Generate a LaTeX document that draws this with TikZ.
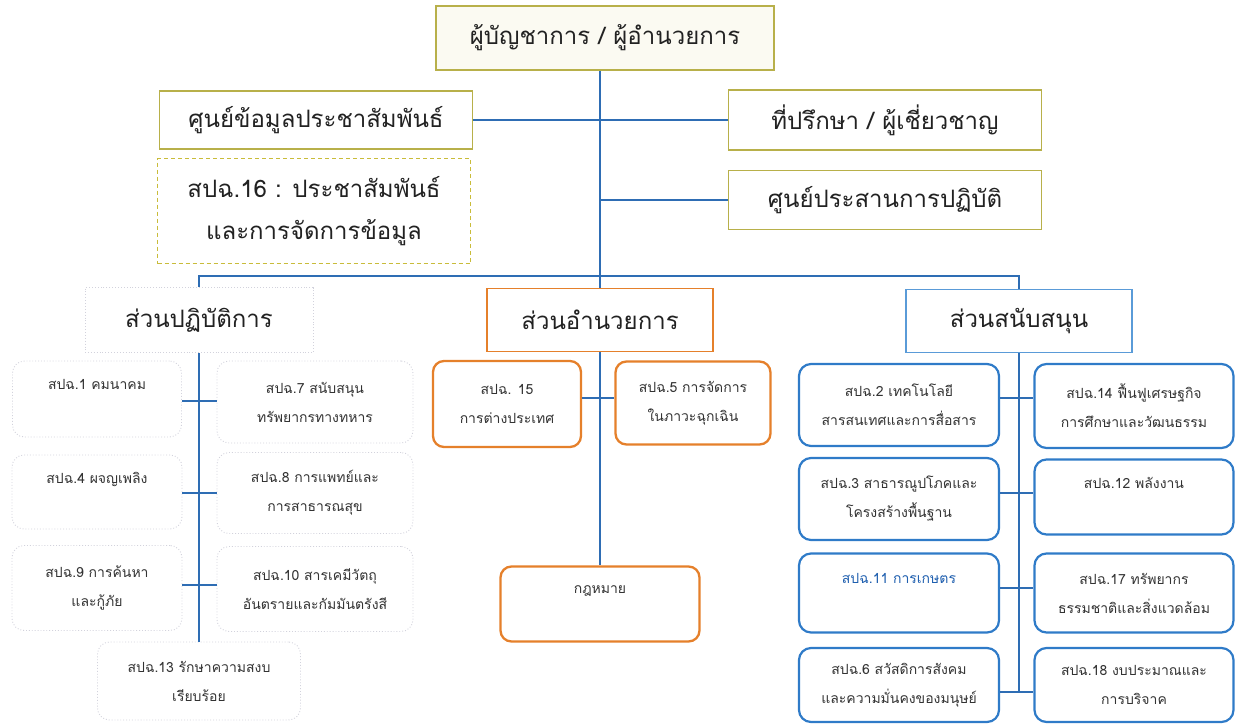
\documentclass[tikz,border=0pt]{standalone}
\usepackage{fontspec}
\newfontfamily\thai[Script=Thai]{Loma}
\definecolor{olivec}{HTML}{B8B04A}
\definecolor{dashc}{HTML}{C9BC3A}
\definecolor{linec}{HTML}{2E6DB4}
\definecolor{orangec}{HTML}{E5802B}
\definecolor{lblue}{HTML}{5A9BD8}
\definecolor{rblue}{HTML}{2F7BC8}
\definecolor{grayc}{HTML}{D2D2DC}
\definecolor{txt}{HTML}{222222}
\definecolor{txtb}{HTML}{333333}
\definecolor{bluetxt}{HTML}{1F5FAF}
\definecolor{topfill}{HTML}{FBFAF2}
\begin{document}
\begin{tikzpicture}[x=1pt,y=-1pt,
  every node/.style={text=txt, inner sep=0pt, align=center},
  bigfont/.style={font=\thai\fontsize{24}{42}\selectfont},
  smallfont/.style={font=\thai\fontsize{14}{29}\selectfont, text=txtb},
  hbox/.style={draw=olivec, line width=1.2pt, fill=white, bigfont},
  dbox/.style={draw=dashc, line width=1.2pt, dash pattern=on 4pt off 3pt, fill=white, bigfont},
  obox/.style={draw=orangec, line width=2.3pt, rounded corners=11pt, fill=white, smallfont},
  bbox/.style={draw=rblue, line width=2.2pt, rounded corners=12pt, fill=white, smallfont},
  gbox/.style={draw=grayc, line width=0.9pt, dotted, rounded corners=12pt, fill=white, smallfont},
  headO/.style={draw=orangec, line width=1.6pt, fill=white, bigfont},
  headB/.style={draw=lblue, line width=1.6pt, fill=white, bigfont},
  headG/.style={draw=grayc, line width=0.9pt, dotted, fill=white, bigfont},
  conn/.style={draw=linec, line width=1.7pt}
]
\useasboundingbox (0,0) rectangle (1237,725);

% top level
\node[hbox, fill=topfill, minimum width=338pt, minimum height=64pt] (top) at (605,38) {ผู้บัญชาการ / ผู้อำนวยการ};
\node[hbox, minimum width=313pt, minimum height=58pt] (pr) at (316,120) {ศูนย์ข้อมูลประชาสัมพันธ์};
\node[dbox, minimum width=313pt, minimum height=105pt] (p16) at (314,211) {สปฉ.16 : ประชาสัมพันธ์\\และการจัดการข้อมูล};
\node[hbox, minimum width=313pt, minimum height=60pt] (adv) at (885,120) {ที่ปรึกษา / ผู้เชี่ยวชาญ};
\node[hbox, minimum width=313pt, minimum height=59pt] (ops) at (885,200) {ศูนย์ประสานการปฏิบัติ};

% second level heads
\node[headG, minimum width=228pt, minimum height=65pt] (op) at (199,320) {ส่วนปฏิบัติการ};
\node[headO, minimum width=226pt, minimum height=63pt] (adm) at (600,320) {ส่วนอำนวยการ};
\node[headB, minimum width=226pt, minimum height=63pt] (sup) at (1019,321) {ส่วนสนับสนุน};

% connectors top
\draw[conn] (adm.north |- top.south) -- (adm.north);
\draw[conn] (pr.east) -- (adv.west);
\draw[conn] (ops.west) -- (ops.west -| adm.north);
\coordinate (bus) at (600,276);
\draw[conn] (op.north) |- (bus) -| (sup.north);

% left column (operations)
\node[gbox, minimum width=169pt, minimum height=76pt] (s1) at (97,399) {สปฉ.1 คมนาคม\\\mbox{}};
\node[gbox, minimum width=196pt, minimum height=82pt] (s7) at (315,402) {สปฉ.7 สนับสนุน\\ทรัพยากรทางทหาร};
\node[gbox, minimum width=170pt, minimum height=74pt] (s4) at (97,492) {สปฉ.4 ผจญเพลิง\\\mbox{}};
\node[gbox, minimum width=196pt, minimum height=81pt] (s8) at (315,493) {สปฉ.8 การแพทย์และ\\การสาธารณสุข};
\node[gbox, minimum width=170pt, minimum height=85pt] (s9) at (97,588) {สปฉ.9 การค้นหา\\และกู้ภัย};
\node[gbox, minimum width=196pt, minimum height=85pt] (s10) at (315,589) {สปฉ.10 สารเคมีวัตถุ\\อันตรายและกัมมันตรังสี};
\node[gbox, minimum width=203pt, minimum height=78pt] (s13) at (199,681) {สปฉ.13 รักษาความสงบ\\เรียบร้อย};
\coordinate (l1) at (199,401);
\coordinate (l2) at (199,493);
\coordinate (l3) at (199,585);
\draw[conn] (op.south) -- (s13.north);
\draw[conn] (s1.east |- l1) -- (s7.west |- l1);
\draw[conn] (s4.east |- l2) -- (s8.west |- l2);
\draw[conn] (s9.east |- l3) -- (s10.west |- l3);

% middle column (administration)
\node[obox, minimum width=148pt, minimum height=86pt] (s15) at (507,404) {สปฉ. 15\\การต่างประเทศ};
\node[obox, minimum width=155pt, minimum height=83pt] (s5) at (693,403) {สปฉ.5 การจัดการ\\ในภาวะฉุกเฉิน};
\node[obox, minimum width=199pt, minimum height=75pt] (law) at (600,604) {กฎหมาย\\\mbox{}};
\coordinate (m1) at (600,398);
\draw[conn] (adm.south) -- (law.north);
\draw[conn] (s15.east |- m1) -- (s5.west |- m1);

% right column (support)
\node[bbox, minimum width=200pt, minimum height=82pt] (s2) at (899,405) {สปฉ.2 เทคโนโลยี\\สารสนเทศและการสื่อสาร};
\node[bbox, minimum width=199pt, minimum height=84pt] (s14) at (1134,406) {สปฉ.14 ฟื้นฟูเศรษฐกิจ\\การศึกษาและวัฒนธรรม};
\node[bbox, minimum width=200pt, minimum height=82pt] (s3) at (899,499) {สปฉ.3 สาธารณูปโภคและ\\โครงสร้างพื้นฐาน};
\node[bbox, minimum width=199pt, minimum height=75pt] (s12) at (1134,497) {สปฉ.12 พลังงาน\\\mbox{}};
\node[bbox, minimum width=200pt, minimum height=79pt] (s11) at (899,593) {\textcolor{bluetxt}{สปฉ.11 การเกษตร}\\\mbox{}};
\node[bbox, minimum width=199pt, minimum height=79pt] (s17) at (1134,593) {สปฉ.17 ทรัพยากร\\ธรรมชาติและสิ่งแวดล้อม};
\node[bbox, minimum width=200pt, minimum height=74pt] (s6) at (899,685) {สปฉ.6 สวัสดิการสังคม\\และความมั่นคงของมนุษย์};
\node[bbox, minimum width=199pt, minimum height=74pt] (s18) at (1134,685) {สปฉ.18 งบประมาณและ\\การบริจาค};
\coordinate (r1) at (1019,398);
\coordinate (r2) at (1019,493);
\coordinate (r3) at (1019,588);
\coordinate (r4) at (1019,692);
\draw[conn] (sup.south) -- (r4);
\draw[conn] (s2.east |- r1) -- (s14.west |- r1);
\draw[conn] (s3.east |- r2) -- (s12.west |- r2);
\draw[conn] (s11.east |- r3) -- (s17.west |- r3);
\draw[conn] (s6.east |- r4) -- (s18.west |- r4);
\end{tikzpicture}
\end{document}
